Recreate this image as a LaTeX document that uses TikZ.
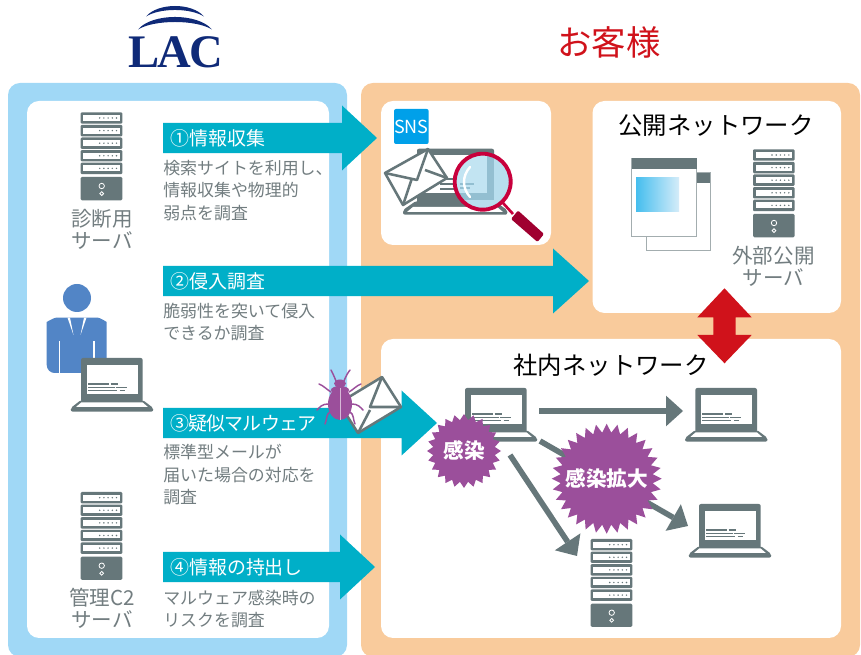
\documentclass[tikz,border=0pt]{standalone}
\usepackage{fontspec}
\setmainfont{Noto Sans CJK JP}
\newfontfamily\logofont{Liberation Serif}
\usetikzlibrary{shapes.geometric,arrows.meta,calc}
\definecolor{skyband}{HTML}{A0D8F6}
\definecolor{peach}{HTML}{F9CB9C}
\definecolor{teal}{HTML}{00AFC8}
\definecolor{slate}{HTML}{66777A}
\definecolor{labelgrey}{HTML}{727D80}
\definecolor{crimson}{HTML}{D0121B}
\definecolor{navy}{HTML}{0F2A78}
\definecolor{suit}{HTML}{5285C6}
\definecolor{grape}{HTML}{9B4F9B}
\definecolor{lensred}{HTML}{C8003C}
\definecolor{snsblue}{HTML}{00A0E9}
\definecolor{lens}{HTML}{B8DEEE}
\definecolor{lenslight}{HTML}{C2E4F2}
\definecolor{lensdark}{HTML}{93BFD1}
\definecolor{gradstart}{HTML}{45BEEE}
\definecolor{gradend}{HTML}{D5ECF9}
\tikzset{
  x=0.75pt,y=-0.75pt,
  panel/.style={rounded corners=9pt},
  card/.style={fill=white,rounded corners=9pt},
  band/.style={fill=teal},
  heading/.style={anchor=west,inner sep=0pt,text=white,font=\fontsize{14.2}{16}\selectfont},
  note/.style={anchor=north west,inner sep=0pt,align=left,text=labelgrey,font=\fontsize{12.7}{16.9}\selectfont},
  caption/.style={inner sep=0pt,align=center,text=labelgrey,font=\fontsize{15.4}{16.6}\selectfont},
  nettitle/.style={inner sep=0pt,text=black,font=\fontsize{18.3}{20}\selectfont},
  burst/.style={star,fill=grape,inner sep=0pt,star point ratio=1.19},
  bursttext/.style={inner sep=0pt,text=white,font=\bfseries\fontsize{15.5}{17}\selectfont},
  spread/.style={draw=slate,line width=4.2pt,-{Triangle[length=12.75pt,width=23pt,line width=0pt]}},
  server/.pic={
    \foreach \r in {0,...,4}{
      \fill[slate,rounded corners=0.8pt] (0,{12.6*\r}) rectangle (41.6,{12.6*\r+11.4});
      \fill[white] (2.7,{12.6*\r+2.7}) rectangle (39,{12.6*\r+8.7});
      \foreach \d in {0,...,4}
        \fill[slate] ({19+4.2*\d},{12.6*\r+5.7}) circle (0.8);
    }
    \fill[slate,rounded corners=1pt] (0,64.6) rectangle (41.6,88);
    \draw[white,line width=0.6pt] (21,73.7) circle (2.7);
    \draw[white,line width=0.6pt] (21,81.3) circle (1.9);
  },
  laptop/.pic={
    \fill[slate,rounded corners=1.5pt] (10.3,0) rectangle (72,44);
    \fill[white] (16,7) rectangle (67,36);
    \fill[slate,rounded corners=1.5pt] (10.3,42) -- (72,42) -- (82.6,50) -- (82.6,53.6) -- (0,53.6) -- (0,50) -- cycle;
    \fill[white] (10.5,44.5) -- (72,44.5) -- (77,48.8) -- (5.5,48.8) -- cycle;
    \draw[slate,line width=1pt] (17.3,26) -- (38,26) (40,26) -- (47,26)
      (17.3,29.3) -- (44,29.3) (45,29.3) -- (56,29.3)
      (17.3,32.7) -- (46,32.7) (49,32.7) -- (54,32.7);
  },
}
\newcommand{\bandarrow}[4]{% start x, neck x, tip x, centre y
  \fill[band] (#1,#4-15.2) -- (#2,#4-15.2) -- (#2,#4-32.5) -- (#3,#4) -- (#2,#4+32.5) -- (#2,#4+15.2) -- (#1,#4+15.2) -- cycle;
}
\begin{document}
\begin{tikzpicture}
\useasboundingbox (0,0) rectangle (861,655);
\clip (0,0) rectangle (861,655);

% logo
\fill[navy] (146,16.5) .. controls (158,2.5) and (192,2.5) .. (204,16.5) .. controls (190,7.8) and (160,7.8) .. cycle;
\fill[navy] (138,29.5) .. controls (152,12.8) and (198,12.8) .. (212,29.5) .. controls (196,19.5) and (154,19.5) .. cycle;
\node[inner sep=0pt,text=navy,draw=none] (logo) at (175.5,52) {\logofont\bfseries\fontsize{35}{35}\selectfont\addfontfeatures{LetterSpace=-4}LAC};
\node[inner sep=0pt,text=crimson,font=\fontsize{25.8}{28}\selectfont] (client) at (609,42) {お客様};

% panels
\fill[skyband,panel] (8,83) rectangle (347,657);
\fill[peach,panel] (361,83) rectangle (860,657);
\fill[card] (27,101) rectangle (329,638);
\fill[card] (381,101) rectangle (551,245);
\fill[card] (592.5,101) rectangle (841,313);
\fill[card] (381,339) rectangle (841,638);

% numbered arrows
\bandarrow{163}{342}{377}{138}
\bandarrow{163}{553}{589}{281}
\bandarrow{163}{401.5}{437}{423}
\bandarrow{163}{340}{375}{567}
\node[heading] (h1) at (170,138) {①情報収集};
\node[heading] (h2) at (170,281) {②侵入調査};
\node[heading] (h3) at (170,423) {\addfontfeatures{LetterSpace=-4}③疑似マルウェア};
\node[heading] (h4) at (170,567) {④情報の持出し};
\node[note] (n1) at (163,159.5) {検索サイトを利用し、\\情報収集や物理的\\弱点を調査};
\node[note] (n2) at (163,302.5) {脆弱性を突いて侵入\\できるか調査};
\node[note] (n3) at (163,444) {標準型メールが\\届いた場合の対応を\\調査};
\node[note] (n4) at (163,589.5) {マルウェア感染時の\\リスクを調査};

% left column
\pic at (80.7,112.3) {server};
\node[caption] (c1) at (102,229) {診断用\\サーバ};
\pic at (80.7,492) {server};
\node[caption] (c2) at (102,608) {管理C2\\サーバ};

% consultant figure
\fill[suit] (77,298) circle (14);
\fill[suit,rounded corners=6pt] (46.7,373) -- (46.7,330) .. controls (46.7,322) and (54,317.7) .. (64,317.7) -- (90,317.7) .. controls (100,317.7) and (106.7,322) .. (106.7,330) -- (106.7,373) -- cycle;
\fill[white] (67.5,317.7) -- (70,317.7) -- (73.5,335) -- cycle;
\fill[white] (86.5,317.7) -- (84,317.7) -- (80.5,335) -- cycle;
\draw[white,line width=0.9pt] (59.5,341) -- (59.5,373) (94,341) -- (94,373);
\pic at (70.7,358) {laptop};

% reconnaissance icons
\fill[snsblue,rounded corners=1.5pt] (394,109) rectangle (428.7,144);
\node[inner sep=0pt,text=white,font=\fontsize{13.5}{14}\selectfont] (sns) at (411.3,126.5) {SNS};
\fill[slate,rounded corners=1.5pt] (417,148.7) rectangle (494,203);
\fill[white] (423,155) rectangle (488,193);
\fill[slate,rounded corners=1.5pt] (416,201) -- (494,201) -- (507.3,210) -- (507.3,214.7) -- (403,214.7) -- (403,210) -- cycle;
\fill[white] (413,207) -- (497,207) -- (503,212) -- (407,212) -- cycle;
\draw[slate,line width=0.9pt] (440,179) -- (474,179) (440,184) -- (470,184) (440,189) -- (466,189);
\fill[white] (428,149) -- (447,178) -- (403,205) -- (385,173) -- cycle;
\draw[slate,line width=1.9pt,line join=round] (428,149) -- (447,178) -- (403,205) -- (385,173) -- cycle;
\draw[slate,line width=1.9pt,line join=round] (385,173) -- (417,180) -- (428,149)
  (403,205) -- (412,178) (447,178) -- (425,170);
\begin{scope}
  \clip (482.7,181.7) circle (28);
  \fill[lens] (455,151) rectangle (512,212);
  \fill[lenslight] (455,151) rectangle (487,193);
  \fill[lensdark] (487,151) rectangle (494,199);
  \fill[lensdark] (455,193) rectangle (494,200);
  \draw[lensdark,line width=0.8pt] (460,184) -- (474,184) (460,188) -- (470,188);
\end{scope}
\draw[white,line width=1.8pt,line cap=round] (470,167) .. controls (462,176) and (462,188) .. (470,197);
\draw[lensred,line width=2.9pt] (482.7,181.7) circle (28);
\draw[lensred,line width=2pt] (503,203) -- (513,214);
\fill[lensred!80!black,rounded corners=1pt] (518,210.5) -- (544,234) -- (537.5,242) -- (511,219) -- cycle;

% public network
\node[nettitle] (pub) at (716,126) {公開ネットワーク};
\draw[draw=slate!60,fill=white,line width=0.9pt] (646.7,172.7) rectangle (710.3,250.3);
\fill[slate] (646.7,172.7) rectangle (710.3,183);
\draw[draw=slate!60,fill=white,line width=0.9pt] (631.7,158.3) rectangle (696.7,236.7);
\fill[slate] (631.7,158.3) rectangle (696.7,169.3);
\shade[left color=gradstart,right color=gradend] (636,178) rectangle (679,211.7);
\pic at (753,149.3) {server};
\node[caption] (c3) at (773.5,266) {外部公開\\サーバ};

% internal network
\node[nettitle] (int) at (611,365) {社内ネットワーク};
\pic at (454.7,388) {laptop};
\pic at (685,388) {laptop};
\pic at (688.7,504) {laptop};
\pic at (590.7,539) {server};
\coordinate (spreadA1) at (539,411);
\coordinate (spreadA2) at (683,411);
\coordinate (spreadB1) at (540,441);
\coordinate (spreadB2) at (688,526);
\coordinate (spreadC1) at (510,455);
\coordinate (spreadC2) at (577,556);
\draw[spread] (spreadA1) -- (spreadA2);
\draw[spread] (spreadB1) -- (spreadB2);
\draw[spread] (spreadC1) -- (spreadC2);
\node[burst,star points=24,minimum size=55.5pt] (infect) at (464,451) {};
\node[bursttext] (infectlabel) at (infect) {感染};
\node[burst,star points=32,minimum size=82.5pt] (spreadburst) at (606.7,478.7) {};
\node[bursttext] (spreadlabel) at (spreadburst) {感染拡大};

% link between the two networks
\fill[crimson] (724.5,288.3) -- (751.7,317.3) -- (735.7,317.3) -- (735.7,335) -- (751.7,335) -- (724.5,363.3) -- (697.3,335) -- (713.3,335) -- (713.3,317.3) -- (697.3,317.3) -- cycle;

% phishing mail and malware
\fill[white] (382,377) -- (401,407) -- (358,433) -- (339,403) -- cycle;
\draw[slate,line width=1.9pt,line join=round] (382,377) -- (401,407) -- (358,433) -- (339,403) -- cycle;
\draw[slate,line width=1.9pt,line join=round] (382,377) -- (370,407) -- (401,407) (358,433) -- (370,410);
\draw[grape,line width=1.1pt,line cap=round]
  (336,381) .. controls (334,376) and (333,374) .. (331,370)
  (344,381) .. controls (346,376) and (347,374) .. (350,370)
  (331,392) .. controls (326,389) and (324,386) .. (319,384)
  (349,392) .. controls (354,389) and (356,386) .. (361,384)
  (328,404) .. controls (322,404) and (320,407) .. (317,410)
  (352,404) .. controls (358,404) and (360,407) .. (363,410)
  (330,412) .. controls (326,414) and (327,420) .. (325,424)
  (350,412) .. controls (354,414) and (353,420) .. (355,424);
\fill[grape] (340,383.5) ellipse (6 and 4);
\fill[grape] (340,390) ellipse (9 and 4);
\fill[grape] (340,404) ellipse (12 and 16);
\draw[white!60!grape,line width=0.5pt] (340,388) -- (340,420);
\end{tikzpicture}
\end{document}
